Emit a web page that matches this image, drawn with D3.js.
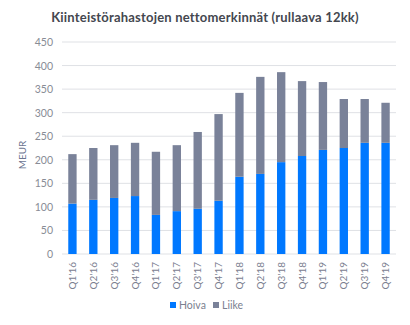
<!DOCTYPE html>
<html><head><meta charset="utf-8">
<script src="https://cdn.jsdelivr.net/npm/d3@7"></script>
<style>body{margin:0;background:#fff;} text{font-family:Lato,"Open Sans",sans-serif;}</style>
</head><body><svg id="c" width="410" height="325"></svg>
<script>
const categories = ["Q1'16","Q2'16","Q3'16","Q4'16","Q1'17","Q2'17","Q3'17","Q4'17","Q1'18","Q2'18","Q3'18","Q4'18","Q1'19","Q2'19","Q3'19","Q4'19"];
const hoiva = [107,115,119,123,83,91,96,113,164,170,195,208,221,225,236,236];
const totals = [212,225,231,236,217,231,259,297,342,376,386,367,365,329,329,321];
const liike = totals.map((t,i)=>t-hoiva[i]);
const yTicks = [0,50,100,150,200,250,300,350,400,450];
const seriesNames = ["Hoiva","Liike"];
const colors = ["#0078ff","#7a8299"];

const svg = d3.select("#c");
const m = {l:62, r:396, t:42, b:254};
const x = d3.scaleBand().domain(categories).range([m.l, m.r]).paddingInner(0.6).paddingOuter(0.3);
const y = d3.scaleLinear().domain([0,450]).range([m.b, m.t]);

svg.append("text").attr("x",205).attr("y",22).attr("text-anchor","middle")
  .attr("font-size",13).attr("font-weight","bold").attr("fill","#44474f")
  .attr("letter-spacing",0.2)
  .text("Kiinteistörahastojen nettomerkinnät (rullaava 12kk)");

const g = svg.append("g");
g.selectAll("line.grid").data(yTicks).enter().append("line")
  .attr("x1",m.l).attr("x2",m.r).attr("y1",d=>y(d)).attr("y2",d=>y(d))
  .attr("stroke","#dfe1e5").attr("stroke-width",1);
g.selectAll("text.yt").data(yTicks).enter().append("text")
  .attr("x",53).attr("y",d=>y(d)+4).attr("text-anchor","end")
  .attr("font-size",10.5).attr("fill","#888c96").text(d=>d);

svg.append("text").attr("transform","translate(26,155) rotate(-90)")
  .attr("text-anchor","middle").attr("font-size",10).attr("fill","#6b7590").text("MEUR");

const stackData = categories.map((c,i)=>({cat:c, Hoiva:hoiva[i], Liike:liike[i]}));
const stack = d3.stack().keys(seriesNames)(stackData);
svg.selectAll("g.s").data(stack).enter().append("g").attr("fill",(d,i)=>colors[i])
  .selectAll("rect").data(d=>d).enter().append("rect")
  .attr("x",d=>x(d.data.cat)).attr("width",x.bandwidth())
  .attr("y",d=>y(d[1])).attr("height",d=>y(d[0])-y(d[1]));

svg.selectAll("text.xt").data(categories).enter().append("text")
  .attr("transform",d=>`translate(${x(d)+x.bandwidth()/2+3.5},262) rotate(-90)`)
  .attr("text-anchor","end").attr("font-size",10).attr("fill","#7b8090").text(d=>d);

const leg = svg.append("g");
const lx = [170, 213];
seriesNames.forEach((n,i)=>{
  leg.append("rect").attr("x",lx[i]).attr("y",302).attr("width",6).attr("height",6).attr("fill",colors[i]);
  leg.append("text").attr("x",lx[i]+9).attr("y",309).attr("font-size",10.5).attr("fill","#7b8090").text(n);
});
</script></body></html>
